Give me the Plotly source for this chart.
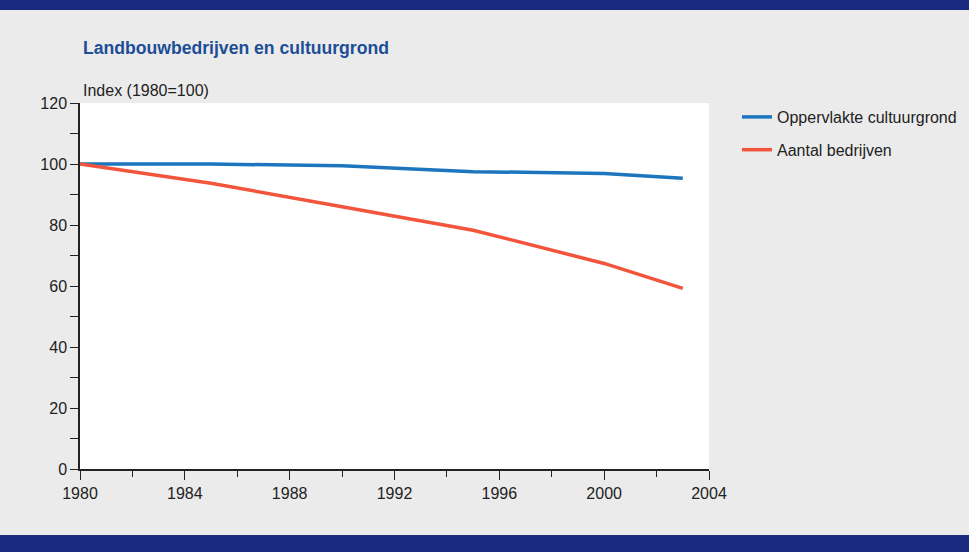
import plotly.graph_objects as go

years = [1980, 1985, 1990, 1995, 2000, 2003]
cultuurgrond = [100, 100, 99.4, 97.5, 96.9, 95.3]
bedrijven = [100, 93.7, 86.0, 78.3, 67.4, 59.2]
series_names = ["Oppervlakte cultuurgrond", "Aantal bedrijven"]
title_text = "Landbouwbedrijven en cultuurgrond"
ylabel_text = "Index (1980=100)"

FONT = "Arial Narrow, Liberation Sans Narrow, Liberation Sans, Arial, sans-serif"
W, H = 969, 552
L, R, T, B = 80, 260, 103, 83

fig = go.Figure()
fig.add_trace(go.Scatter(x=years, y=cultuurgrond, mode="lines", name=series_names[0],
                         line=dict(color="#1d76bd", width=3.5), legendgroup="a"))
fig.add_trace(go.Scatter(x=years, y=bedrijven, mode="lines", name=series_names[1],
                         line=dict(color="#f2543c", width=3.5), legendgroup="b"))

ph = H - T - B
pw = W - L - R
fig.update_layout(
    width=W, height=H,
    margin=dict(l=L, r=R, t=T, b=B, autoexpand=False),
    paper_bgcolor="#ebebeb",
    plot_bgcolor="#ffffff",
    font=dict(family=FONT, size=16, color="#222222"),
    showlegend=True,
    legend=dict(x=(737 - L) / pw, xanchor="left",
                y=1 - (100 - T) / ph, yanchor="top",
                bgcolor="rgba(0,0,0,0)", font=dict(size=16, color="#222222"),
                tracegroupgap=9),
    xaxis=dict(range=[1980, 2004], tickvals=list(range(1980, 2005, 4)),
               ticks="outside", ticklen=9, tickwidth=1, tickcolor="#222",
               showline=True, linecolor="#222", linewidth=1.5, showgrid=False,
               zeroline=False,
               minor=dict(tickvals=list(range(1982, 2004, 4)), ticks="outside",
                          ticklen=6, tickcolor="#222", showgrid=False)),
    yaxis=dict(range=[0, 120], tickvals=list(range(0, 121, 20)),
               ticks="outside", ticklen=8, tickwidth=1, tickcolor="#222",
               showline=True, linecolor="#222", linewidth=1.5, showgrid=False,
               zeroline=False,
               minor=dict(tickvals=list(range(10, 120, 20)), ticks="outside",
                          ticklen=8, tickcolor="#222", showgrid=False)),
    shapes=[
        dict(type="rect", xref="paper", yref="paper",
             x0=-L / pw, x1=1 + R / pw,
             y0=1 + (T - 0) / ph, y1=1 + (T - 10) / ph,
             fillcolor="#1a2a7f", line=dict(width=0), layer="above"),
        dict(type="rect", xref="paper", yref="paper",
             x0=-L / pw, x1=1 + R / pw,
             y0=-(535 - T - ph) / ph, y1=-(H - T - ph) / ph,
             fillcolor="#1a2a7f", line=dict(width=0), layer="above"),
    ],
    annotations=[
        dict(text="<b>" + title_text + "</b>", xref="paper", yref="paper",
             x=(81 - L) / pw, y=1 + (T - 48) / ph, xanchor="left", yanchor="middle",
             showarrow=False, font=dict(size=17.6, color="#1d4e96", family=FONT)),
        dict(text=ylabel_text, xref="paper", yref="paper",
             x=(81 - L) / pw, y=1 + (T - 90) / ph, xanchor="left", yanchor="middle",
             showarrow=False, font=dict(size=16, color="#222222", family=FONT)),
    ],
)

fig.write_html("out.html")
